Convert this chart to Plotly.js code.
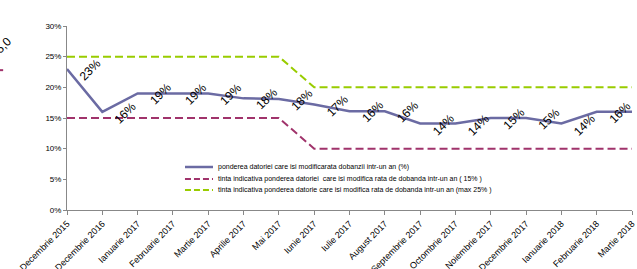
<!DOCTYPE html>
<html>
<head>
<meta charset="utf-8">
<script src="https://cdn.plot.ly/plotly-3.0.1.min.js"></script>
<style>
html,body{margin:0;padding:0;background:#fff;overflow:hidden;}
#chart{width:637px;height:269px;}
</style>
</head>
<body>
<div id="chart"></div>
<script>
var categories = ["Decembrie 2015","Decembrie 2016","Ianuarie 2017","Februarie 2017","Martie 2017","Aprilie 2017","Mai 2017","Iunie 2017","Iulie 2017","August 2017","Septembrie 2017","Octombrie 2017","Noiembrie 2017","Decembrie 2017","Ianuarie 2018","Februarie 2018","Martie 2018"];
var pondere = [23, 16, 19, 19, 19, 18.2, 18.1, 17.2, 16.1, 16.1, 14.1, 14.1, 15, 15, 14.1, 16, 16];
var tinta15 = [15, 15, 15, 15, 15, 15, 15, 10, 10, 10, 10, 10, 10, 10, 10, 10, 10];
var tinta25 = [25, 25, 25, 25, 25, 25, 25, 20, 20, 20, 20, 20, 20, 20, 20, 20, 20];
var seriesNames = [
  "ponderea datoriei care isi modificarata dobanzii intr-un an (%)",
  "tinta indicativa ponderea datoriei  care isi modifica rata de dobanda intr-un an ( 15% )",
  "tinta indicativa ponderea datorie care isi modifica rata de dobanda intr-un an (max 25% )"
];
var yTickVals = [0, 5, 10, 15, 20, 25, 30];
var yTickText = ["0%", "5%", "10%", "15%", "20%", "25%", "30%"];

var idx = categories.map(function(_, i){ return i; });
var FONT = "Liberation Sans, Arial, sans-serif";
var styles = [
  {color: "#6b6ba3", width: 2.5},
  {color: "#a0336b", width: 2, dash: "8px,4px"},
  {color: "#99cc00", width: 2, dash: "8px,4px"}
];
var seriesData = [pondere, tinta15, tinta25];

var traces = seriesData.map(function(d, k){
  return {x: idx, y: d, name: seriesNames[k], type: "scatter", mode: "lines",
    line: styles[k], showlegend: false};
});

var annotations = pondere.map(function(v, i){
  return {x: i, y: v, xref: "x", yref: "y", text: Math.round(v) + "%",
    showarrow: false, textangle: -45, xshift: 23, yshift: -1,
    font: {family: FONT, size: 12, color: "#000"}};
});

// manual legend (compact rows as in the reference)
var legX0 = 0.2088, legX1 = 0.2584, legTextX = 0.2637;
var legY = [0.2337, 0.1685, 0.1087];
var shapes = [];
seriesNames.forEach(function(n, k){
  shapes.push({type: "line", xref: "paper", yref: "paper", x0: legX0, x1: legX1, y0: legY[k], y1: legY[k],
    line: {color: styles[k].color, width: styles[k].width, dash: k === 0 ? "solid" : "6px,3px"}});
  annotations.push({xref: "paper", yref: "paper", x: legTextX, y: legY[k], text: n, showarrow: false,
    xanchor: "left", yanchor: "middle", font: {family: FONT, size: 7, color: "#000"}});
});

// fragments of neighbouring chart at the left edge
annotations.push({xref: "paper", yref: "paper", x: -0.112, y: 0.97, text: "5,0", showarrow: false,
  textangle: -45, font: {family: FONT, size: 12, color: "#000"}, xanchor: "center"});
shapes.push({type: "line", xref: "paper", yref: "paper", x0: -0.119, x1: -0.113, y0: 0.76, y1: 0.76,
  line: {color: "#a0336b", width: 2}});

var layout = {
  width: 637, height: 269,
  margin: {l: 67, r: 5, t: 26, b: 59},
  paper_bgcolor: "#fff", plot_bgcolor: "#fff",
  showlegend: false,
  xaxis: {range: [0, 16], tickmode: "array", tickvals: idx, ticktext: categories,
    tickangle: -45, showgrid: false, zeroline: false, showline: true, linecolor: "#888", linewidth: 1,
    ticks: "outside", ticklen: 4, tickcolor: "#888",
    tickfont: {family: FONT, size: 9, color: "#000"}},
  yaxis: {range: [0, 30], tickmode: "array", tickvals: yTickVals, ticktext: yTickText,
    showgrid: false, zeroline: false, showline: true, linecolor: "#888", linewidth: 1,
    ticks: "outside", ticklen: 3, tickcolor: "#888",
    tickfont: {family: FONT, size: 8, color: "#000"}},
  annotations: annotations,
  shapes: shapes
};

Plotly.newPlot("chart", traces, layout, {displayModeBar: false, staticPlot: true});
</script>
</body>
</html>
